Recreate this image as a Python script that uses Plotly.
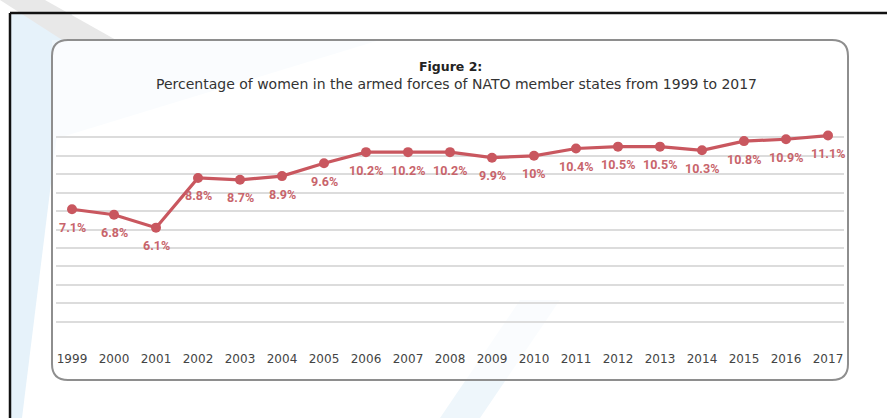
import plotly.graph_objects as go

years = [1999, 2000, 2001, 2002, 2003, 2004, 2005, 2006, 2007, 2008,
         2009, 2010, 2011, 2012, 2013, 2014, 2015, 2016, 2017]
share = [7.1, 6.8, 6.1, 8.8, 8.7, 8.9, 9.6, 10.2, 10.2, 10.2,
         9.9, 10.0, 10.4, 10.5, 10.5, 10.3, 10.8, 10.9, 11.1]
labels = [f"{v:g}%" for v in share]
title_main = "Figure 2:"
title_sub = "Percentage of women in the armed forces of NATO member states from 1999 to 2017"

W, H = 887, 418
L, R, T, B = 56, 844, 119, 340  # plot area in pixels


def px(x):
    return (x - L) / (R - L)


def py(y):
    return (B - y) / (B - T)


def rounded_box(x0, y0, x1, y1, r):
    return (f"M {px(x0 + r)},{py(y0)} L {px(x1 - r)},{py(y0)} "
            f"Q {px(x1)},{py(y0)} {px(x1)},{py(y0 + r)} "
            f"L {px(x1)},{py(y1 - r)} Q {px(x1)},{py(y1)} {px(x1 - r)},{py(y1)} "
            f"L {px(x0 + r)},{py(y1)} Q {px(x0)},{py(y1)} {px(x0)},{py(y1 - r)} "
            f"L {px(x0)},{py(y0 + r)} Q {px(x0)},{py(y0)} {px(x0 + r)},{py(y0)} Z")


def poly(points):
    return "M " + " L ".join(f"{px(a)},{py(b)}" for a, b in points) + " Z"


color = "#c9575f"
label_color = "#c8646b"

fig = go.Figure()
fig.add_trace(go.Scatter(
    x=years, y=share, mode="lines+markers",
    line=dict(color=color, width=3.2),
    marker=dict(color=color, size=10),
    cliponaxis=False, hoverinfo="skip",
))

annotations = [
    dict(x=x, y=v, text=t, xref="x", yref="y", showarrow=False, yshift=-18,
         font=dict(family="Roboto", size=12.5, color=label_color, weight="bold"))
    for x, v, t in zip(years, share, labels)
]
annotations += [
    dict(text=f"<b>{title_main}</b>", x=px(450), y=py(57), xref="paper", yref="paper",
         showarrow=False, font=dict(family="DejaVu Sans", size=12.5, color="#222222")),
    dict(text=title_sub, x=px(456), y=py(74), xref="paper", yref="paper",
         showarrow=False, font=dict(family="DejaVu Sans", size=14, color="#333333")),
]

shapes = [
    # background decorations
    dict(type="path", path=poly([(10, 13), (72, 13), (22, 418), (10, 418)]),
         xref="paper", yref="paper", fillcolor="#e6f2fa", line=dict(width=0), layer="below"),
    dict(type="path", path=poly([(0, 0), (45, 0), (125, 45), (70, 45)]),
         xref="paper", yref="paper", fillcolor="#e8e8e8", line=dict(width=0), layer="below"),
    dict(type="path", path=poly([(52, 40), (380, 40), (52, 140)]),
         xref="paper", yref="paper", fillcolor="#eef6fb", line=dict(width=0), layer="below"),
    dict(type="path", path=poly([(520, 300), (560, 300), (480, 418), (440, 418)]),
         xref="paper", yref="paper", fillcolor="#eef6fb", line=dict(width=0), layer="below"),
    # box fill
    dict(type="path", path=rounded_box(52, 40, 848, 380, 16),
         xref="paper", yref="paper", fillcolor="rgba(255,255,255,0.7)",
         line=dict(width=0), layer="below"),
    # rounded frame
    dict(type="path", path=rounded_box(52, 40, 848, 380, 16),
         xref="paper", yref="paper", fillcolor="rgba(0,0,0,0)",
         line=dict(color="#8e8e8e", width=2)),
    # outer black frame (top and left)
    dict(type="line", x0=px(10), x1=px(W), y0=py(13), y1=py(13),
         xref="paper", yref="paper", line=dict(color="#111111", width=2.5)),
    dict(type="line", x0=px(10), x1=px(10), y0=py(13), y1=py(H),
         xref="paper", yref="paper", line=dict(color="#111111", width=2.5)),
]

fig.update_layout(
    width=W, height=H,
    margin=dict(l=L, r=W - R, t=T, b=H - B),
    paper_bgcolor="white", plot_bgcolor="rgba(0,0,0,0)",
    showlegend=False,
    shapes=shapes,
    annotations=annotations,
    xaxis=dict(range=[1999 - 16 / 42, 2017 + 16 / 42], tickmode="array", tickvals=years,
               ticktext=[str(y) for y in years], showgrid=False, zeroline=False,
               showline=False, ticks="", ticklabelstandoff=10,
               tickfont=dict(family="DejaVu Sans", size=12, color="#444444"),
               fixedrange=True),
    yaxis=dict(range=[0, 12], dtick=1, showticklabels=False, showgrid=True,
               gridcolor="#dcdcdc", gridwidth=1.5, zeroline=False, showline=False,
               fixedrange=True),
)

fig.write_html("out.html")
